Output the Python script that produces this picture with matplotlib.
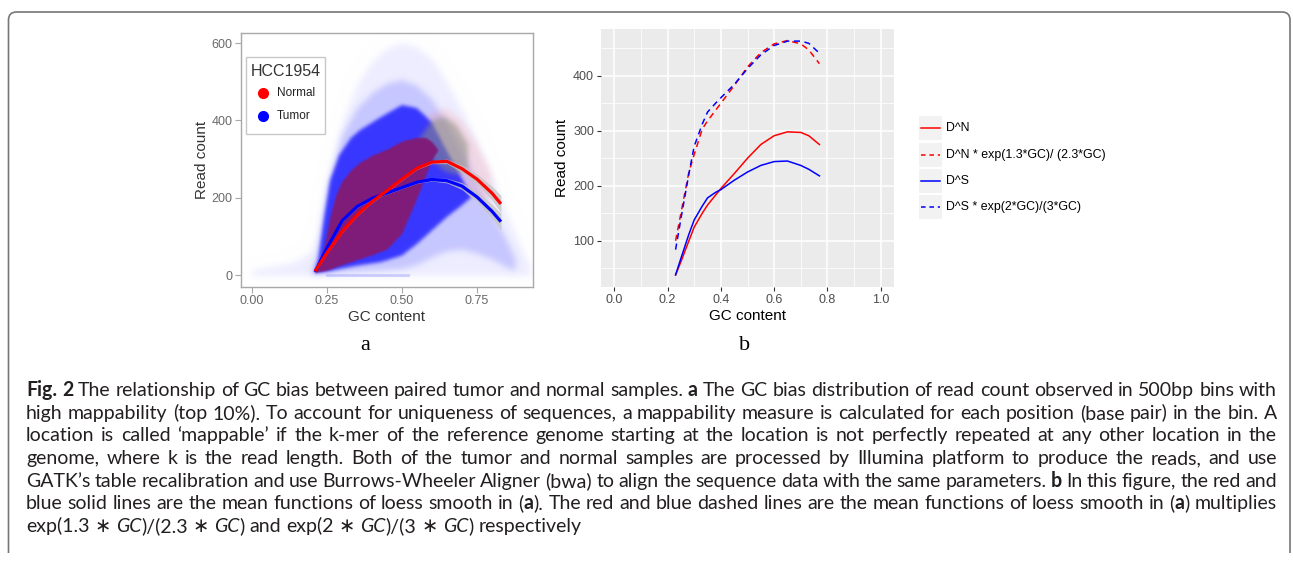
import numpy as np
import matplotlib
matplotlib.use("Agg")
import matplotlib.pyplot as plt
from matplotlib.path import Path
from matplotlib.patches import PathPatch, Rectangle

# ---------- panel a : loess fits ----------
gc_fit = [0.21, 0.25, 0.30, 0.35, 0.40, 0.45, 0.50, 0.55, 0.60, 0.65, 0.70, 0.75, 0.80, 0.83]
normal_fit = [10, 58, 112, 155, 190, 218, 248, 276, 292, 294, 275, 248, 212, 184]
tumor_fit = [8, 70, 140, 177, 198, 212, 226, 240, 247, 244, 230, 202, 165, 138]
fit_se = [3, 3, 3, 3, 3, 3, 3, 3, 4, 6, 9, 13, 18, 22]

# ---------- panel a : outlines of the point cloud ----------
halo_gc = [0.00, 0.05, 0.10, 0.15, 0.20, 0.22, 0.25, 0.30, 0.35, 0.40, 0.45, 0.50,
           0.55, 0.60, 0.65, 0.70, 0.75, 0.80, 0.85, 0.90, 0.93]
halo_top = [12, 18, 25, 35, 60, 110, 240, 390, 490, 550, 585, 600,
            590, 560, 500, 430, 350, 260, 160, 70, 20]
halo_bot = [-3] * 21

haze_gc = [0.20, 0.22, 0.25, 0.30, 0.35, 0.40, 0.45, 0.50, 0.55, 0.60, 0.65, 0.70, 0.75, 0.80, 0.85, 0.88]
haze_top = [15, 60, 220, 360, 430, 470, 495, 505, 490, 455, 395, 325, 245, 165, 90, 40]
haze_bot = [0, 0, 2, 5, 8, 10, 12, 15, 25, 45, 60, 65, 55, 40, 20, 10]

pink_gc = [0.56, 0.60, 0.65, 0.70, 0.75, 0.80]
pink_top = [380, 420, 430, 400, 340, 260]
pink_bot = [300, 260, 230, 210, 200, 190]

blue_gc = [0.21, 0.22, 0.24, 0.26, 0.29, 0.33, 0.36, 0.43, 0.50, 0.55, 0.60, 0.65, 0.70, 0.73]
blue_top = [10, 40, 150, 245, 310, 355, 375, 409, 440, 432, 395, 320, 250, 205]
blue_bot = [5, 6, 8, 10, 15, 21, 25, 33, 50, 80, 115, 150, 180, 200]

mix_gc = [0.56, 0.60, 0.64, 0.68, 0.72]
mix_top = [355, 400, 410, 390, 340]
mix_bot = [330, 300, 270, 260, 270]

purple_gc = [0.21, 0.24, 0.26, 0.28, 0.30, 0.33, 0.36, 0.40, 0.45, 0.50, 0.55, 0.58, 0.60, 0.62]
purple_top = [8, 65, 145, 205, 240, 270, 290, 308, 324, 345, 355, 355, 345, 325]
purple_bot = [5, 9, 13, 19, 25, 32, 40, 50, 65, 105, 195, 255, 295, 320]

zero_gc = [0.25, 0.52]
zero_count = [0, 0]

legend_a_title = "HCC1954"
legend_a_labels = ["Normal", "Tumor"]

# ---------- panel b : mean functions ----------
gc_b = [0.23, 0.25, 0.28, 0.30, 0.33, 0.35, 0.38, 0.40, 0.45, 0.50, 0.55, 0.60, 0.65, 0.70, 0.73, 0.77]
dn = [38, 62, 100, 125, 150, 165, 183, 195, 222, 250, 275, 291, 298, 297, 291, 275]
dn_adj = [100, 150, 225, 257, 303, 318, 337, 350, 382, 416, 442, 458, 464, 458, 447, 422]
ds = [38, 68, 112, 138, 163, 178, 188, 193, 210, 225, 237, 244, 245, 237, 230, 218]
ds_adj = [84, 140, 222, 272, 312, 334, 350, 360, 384, 413, 438, 455, 463, 463, 459, 441]
labels_b = ["D^N", "D^N * exp(1.3*GC)/ (2.3*GC)", "D^S", "D^S * exp(2*GC)/(3*GC)"]

plt.rcParams['font.family'] = ['Liberation Sans', 'DejaVu Sans']

W, H = 1293, 567
fig = plt.figure(figsize=(W / 100, H / 100), dpi=100)


def frac(left, top, right, bottom):
    return [left / W, 1 - bottom / H, (right - left) / W, (bottom - top) / H]


# ================= panel a =================
ax1 = fig.add_axes(frac(241, 33, 533, 287))
XL, YL = (-0.037, 0.937), (-31, 626)

# the dense cloud is rendered as soft-edged layers
G, C = np.meshgrid(np.linspace(XL[0], XL[1], 584), np.linspace(YL[0], YL[1], 508))


def blur(m, s):
    r = int(3 * s) + 1
    k = np.exp(-0.5 * (np.arange(-r, r + 1) / s) ** 2)
    k /= k.sum()
    m = np.apply_along_axis(lambda v: np.convolve(v, k, mode='same'), 0, m)
    return np.apply_along_axis(lambda v: np.convolve(v, k, mode='same'), 1, m)


def layer(gc, bot, top, s):
    inside = (G >= gc[0]) & (G <= gc[-1]) & (C >= np.interp(G, gc, bot)) & (C <= np.interp(G, gc, top))
    return blur(inside.astype(float), s)


rgb = np.ones(G.shape + (3,))
for gc, bot, top, col, a, s in [
        (halo_gc, halo_bot, halo_top, (0, 0, 1), 0.07, 7),
        (haze_gc, haze_bot, haze_top, (0, 0, 1), 0.16, 6),
        (pink_gc, pink_bot, pink_top, (1, 0.45, 0.45), 0.18, 6),
        (blue_gc, blue_bot, blue_top, (0.12, 0.12, 1), 0.85, 3.5),
        (mix_gc, mix_bot, mix_top, (0.55, 0.56, 0.5), 0.55, 5),
        (purple_gc, purple_bot, purple_top, (0.5, 0.11, 0.48), 1.0, 1.6)]:
    alpha = (a * layer(gc, bot, top, s))[..., None]
    rgb = rgb * (1 - alpha) + np.array(col) * alpha
ax1.imshow(rgb, extent=[XL[0], XL[1], YL[0], YL[1]], origin='lower', aspect='auto', interpolation='bilinear')
ax1.plot(zero_gc, zero_count, color='#8080ff', alpha=0.35, lw=2)

n_lo = [v - s for v, s in zip(normal_fit, fit_se)]
n_hi = [v + s for v, s in zip(normal_fit, fit_se)]
t_lo = [v - s for v, s in zip(tumor_fit, fit_se)]
t_hi = [v + s for v, s in zip(tumor_fit, fit_se)]
ax1.fill_between(gc_fit, n_lo, n_hi, color='#c4c4c4', alpha=0.75, lw=0)
ax1.fill_between(gc_fit, t_lo, t_hi, color='#c4c4c4', alpha=0.75, lw=0)
ax1.plot(gc_fit, tumor_fit, color='blue', lw=2.3, solid_capstyle='butt')
ax1.plot(gc_fit, normal_fit, color='red', lw=2.3, solid_capstyle='butt')

ax1.set_xlim(*XL)
ax1.set_ylim(*YL)
ax1.set_xticks([0, 0.25, 0.5, 0.75])
ax1.set_xticklabels(['0.00', '0.25', '0.50', '0.75'])
ax1.set_yticks([0, 200, 400, 600])
for s in ax1.spines.values():
    s.set_color('#a8a8a8')
    s.set_linewidth(1.0)
ax1.tick_params(length=4, color='#a8a8a8', labelcolor='#6a6a6a', labelsize=9, pad=2)
ax1.set_xlabel('GC content', fontsize=11, color='#333333', labelpad=2)
ax1.set_ylabel('Read count', fontsize=11, color='#333333', labelpad=2)

# ================= panel b =================
ax2 = fig.add_axes(frac(601, 29, 894, 287))
ax2.set_facecolor('#ebebeb')
ax2.plot(gc_b, dn, color='red', lw=1.1)
ax2.plot(gc_b, dn_adj, color='red', lw=1.1, dashes=(4, 3))
ax2.plot(gc_b, ds, color='blue', lw=1.1)
ax2.plot(gc_b, ds_adj, color='blue', lw=1.1, dashes=(4, 3))
ax2.set_xlim(-0.05, 1.05)
ax2.set_ylim(16, 485)
ax2.set_xticks([0, 0.2, 0.4, 0.6, 0.8, 1.0])
ax2.set_xticklabels(['0.0', '0.2', '0.4', '0.6', '0.8', '1.0'])
ax2.set_xticks([0.1, 0.3, 0.5, 0.7, 0.9], minor=True)
ax2.set_yticks([100, 200, 300, 400])
ax2.set_yticks([50, 150, 250, 350, 450], minor=True)
ax2.grid(which='major', color='white', lw=1.1)
ax2.grid(which='minor', color='white', lw=0.55)
ax2.set_axisbelow(True)
for s in ax2.spines.values():
    s.set_visible(False)
ax2.tick_params(which='major', length=3, color='#333333', labelcolor='#4d4d4d', labelsize=9, pad=2)
ax2.tick_params(which='minor', length=0)
ax2.set_xlabel('GC content', fontsize=11, color='black', labelpad=2)
ax2.set_ylabel('Read count', fontsize=11, color='black', labelpad=3)

# ================= overlay (pixel coordinates) =================
ax0 = fig.add_axes([0, 0, 1, 1])
ax0.set_xlim(0, W)
ax0.set_ylim(H, 0)
ax0.axis('off')
ax0.patch.set_visible(False)
ax0.set_zorder(5)

# rounded frame
verts = [(8.5, 553), (8.5, 20), (8.5, 12), (16.5, 12), (1282, 12), (1290, 12), (1290, 20), (1290, 553)]
codes = [Path.MOVETO, Path.LINETO, Path.CURVE3, Path.CURVE3, Path.LINETO, Path.CURVE3, Path.CURVE3, Path.LINETO]
ax0.add_patch(PathPatch(Path(verts, codes), fill=False, edgecolor='#777777', lw=1.2))

# legend of panel a
ax0.add_patch(Rectangle((246, 57), 79, 77, facecolor='white', edgecolor='#c8c8c8', lw=1))
ax0.text(286, 71, legend_a_title, fontsize=11.5, color='#333333', ha='center', va='center')
for yy, col, lab in zip([93, 116], ['red', 'blue'], legend_a_labels):
    ax0.plot([263], [yy], 'o', color=col, ms=7)
    ax0.text(277, yy, lab, fontsize=8.5, color='#222222', ha='left', va='center')

# legend of panel b
for yy, col, dash, lab in zip([128, 155, 181, 207], ['red', 'red', 'blue', 'blue'],
                              [None, (4, 3), None, (4, 3)], labels_b):
    ax0.add_patch(Rectangle((919, yy - 12), 23, 24, facecolor='#f2f2f2', edgecolor='none'))
    ln, = ax0.plot([921, 940], [yy, yy], color=col, lw=1.1)
    if dash:
        ln.set_dashes((3, 2.5))
    ax0.text(946, yy, lab, fontsize=8.9, color='black', ha='left', va='center')

# panel letters
ax0.text(365, 345, 'a', family='Liberation Serif', fontsize=16, ha='center', va='center')
ax0.text(745, 345, 'b', family='Liberation Serif', fontsize=16, ha='center', va='center')

# caption (justified lines)
cap_font = ['Lato', 'DejaVu Sans']
N, B, I = ('normal', 'normal'), ('bold', 'normal'), ('normal', 'italic')
caption = [
    [("Fig. 2", B), (" The relationship of GC bias between paired tumor and normal samples. ", N), ("a", B),
     (" The GC bias distribution of read count observed in 500bp bins with", N)],
    [("high mappability (top 10%). To account for uniqueness of sequences, a mappability measure is calculated "
      "for each position (base pair) in the bin. A", N)],
    [("location is called \u2018mappable\u2019 if the k-mer of the reference genome starting at the location is "
      "not perfectly repeated at any other location in the", N)],
    [("genome, where k is the read length. Both of the tumor and normal samples are processed by Illumina "
      "platform to produce the reads, and use", N)],
    [("GATK\u2019s table recalibration and use Burrows-Wheeler Aligner (bwa) to align the sequence data with the "
      "same parameters. ", N), ("b", B), (" In this figure, the red and", N)],
    [("blue solid lines are the mean functions of loess smooth in (", N), ("a", B),
     ("). The red and blue dashed lines are the mean functions of loess smooth in (", N), ("a", B),
     (") multiplies", N)],
    [("exp(1.3 \u2217 ", N), ("GC", I), (")/(2.3 \u2217 ", N), ("GC", I), (") and exp(2 \u2217 ", N), ("GC", I),
     (")/(3 \u2217 ", N), ("GC", I), (") respectively", N)],
]

renderer = fig.canvas.get_renderer()


def run_width(txt, size, weight='normal', style='normal'):
    a = ax0.text(0, 0, '|' + txt + '|', fontsize=size, fontweight=weight, fontstyle=style, family=cap_font)
    b = ax0.text(0, 0, '||', fontsize=size, fontweight=weight, fontstyle=style, family=cap_font)
    w = a.get_window_extent(renderer).width - b.get_window_extent(renderer).width
    a.remove()
    b.remove()
    return w


def tokens(line):
    out, gap = [], False
    for txt, (weight, style) in line:
        for i, p in enumerate(txt.split(' ')):
            if i > 0:
                gap = True
            if p == '':
                continue
            out.append((p, weight, style, gap))
            gap = False
    return out


X0, X1 = 26, 1277
size0 = 10.0
space0 = run_width(' ', size0)
natural = []
for line in caption[:-1]:
    toks = tokens(line)
    natural.append(sum(run_width(t[0], size0, t[1], t[2]) for t in toks) + space0 * sum(t[3] for t in toks))
cap_size = size0 * (X1 - X0) / float(np.median(natural))

for k, line in enumerate(caption):
    toks = tokens(line)
    widths = [run_width(t[0], cap_size, t[1], t[2]) for t in toks]
    ngap = sum(t[3] for t in toks)
    gap = run_width(' ', cap_size)
    if k < len(caption) - 1 and ngap:
        gap = (X1 - X0 - sum(widths)) / ngap
    x = X0
    y = 396 + k * 22.67
    for (txt, weight, style, g), w in zip(toks, widths):
        if g:
            x += gap
        ax0.text(x, y, txt, fontsize=cap_size, fontweight=weight, fontstyle=style, family=cap_font,
                 color='#231f20', ha='left', va='baseline')
        x += w

fig.savefig('out.png', dpi=100)
